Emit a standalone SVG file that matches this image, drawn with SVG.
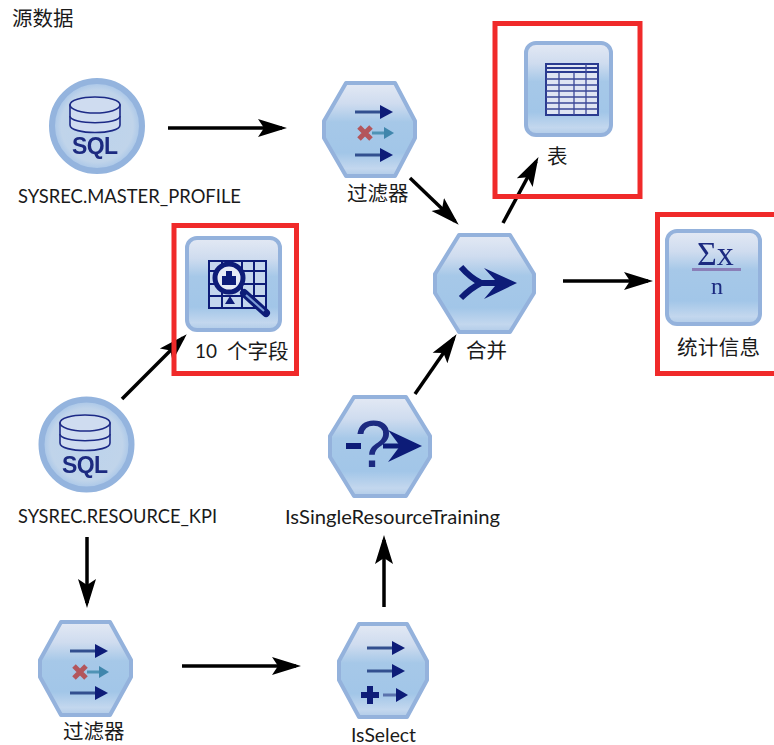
<svg xmlns="http://www.w3.org/2000/svg" width="774" height="745" viewBox="0 0 774 745">
<style>
.t{font-family:"Lato","Noto Sans CJK SC",sans-serif;font-size:19px;fill:#1a1a1a}
.c{font-family:"Noto Sans CJK SC","Noto Sans",sans-serif;font-size:20.500px;fill:#1a1a1a}
.hex{fill:url(#g);stroke:#94b2dc;stroke-width:4;stroke-linejoin:round}
.box{fill:url(#g);stroke:#94b2dc;stroke-width:4}
.circ{fill:url(#r);stroke:#94b4de;stroke-width:6}
.red{fill:none;stroke:#f02a2a;stroke-width:5}
.con{stroke:#000;stroke-width:3.500;fill:none;marker-end:url(#a)}
.n{fill:#0c1a78}
.ns{stroke:#0c1a78;fill:none}
.db{fill:#cfdcf0;stroke:#1c2a86;stroke-width:1.600}
.ic{font-family:"Liberation Sans",sans-serif;fill:#1c2a80}
.is{font-family:"Liberation Serif",serif;fill:#1c2a80}
.grid{stroke:#3a4798;stroke-width:1.300;fill:none}
</style>
<defs>
<linearGradient id="g" x1="0" y1="0" x2="0" y2="1">
<stop offset="0" stop-color="#e3e9f4"/><stop offset=".22" stop-color="#cfdcef"/><stop offset=".42" stop-color="#a6c8e8"/><stop offset=".75" stop-color="#a2c6e8"/><stop offset=".92" stop-color="#c3d7ee"/><stop offset="1" stop-color="#b0cbe8"/>
</linearGradient>
<radialGradient id="r" cx=".5" cy=".5" r=".5">
<stop offset="0" stop-color="#bcd3ec"/><stop offset=".8" stop-color="#c0d4ea"/><stop offset="1" stop-color="#a5c4e8"/>
</radialGradient>
<filter id="b" x="-5%" y="-5%" width="110%" height="110%"><feGaussianBlur stdDeviation="0.600"/></filter>
<marker id="a" markerUnits="userSpaceOnUse" markerWidth="32" markerHeight="22" refX="24" refY="10" orient="auto">
<path d="M0 1L29 10L0 19L6 10Z" fill="#000"/>
</marker>
<g id="db">
<path class="db" d="M-25 8V28C-25 38 25 38 25 28V8Z"/>
<path class="db" d="M-25 19C-25 28 25 28 25 19"/>
<ellipse class="db" cx="0" cy="8" rx="25" ry="8" fill="#dfe8f5"/>
</g>
<g id="fa">
<path d="M0 0H28" stroke-width="3" stroke="#33508f" fill="none"/>
<path d="M25 -7L38 0L25 7Z" fill="#0c1a78"/>
</g>
</defs>

<g id="label-source"><text class="c" x="12" y="26">源数据</text></g>

<g id="connectors">
<line class="con" x1="168" y1="128" x2="282" y2="128"/>
<line class="con" x1="410" y1="178" x2="455.100" y2="221.200"/>
<line class="con" x1="503" y1="223" x2="536.100" y2="161.500"/>
<line class="con" x1="122" y1="399" x2="183.200" y2="337.800"/>
<line class="con" x1="415" y1="394" x2="453.700" y2="338.300"/>
<line class="con" x1="384" y1="607" x2="384" y2="540"/>
<line class="con" x1="87" y1="537" x2="87" y2="603"/>
<line class="con" x1="182" y1="666" x2="296" y2="666"/>
<line class="con" x1="563" y1="281" x2="648" y2="281"/>
</g>

<g id="node-master-profile">
<g filter="url(#b)">
<circle class="circ" cx="97" cy="126" r="45"/>
<use href="#db" x="95" y="97"/>
<text class="ic" x="95" y="154" text-anchor="middle" font-size="23" font-weight="bold" textLength="46">SQL</text>
</g>
<text class="t" x="18" y="203" textLength="223" lengthAdjust="spacingAndGlyphs">SYSREC.MASTER_PROFILE</text>
</g>

<g id="node-filter-1">
<g filter="url(#b)">
<path class="hex" d="M346 83H395L415 121V138L395 176H346L324 138V121Z"/>
<use href="#fa" x="355" y="112"/><use href="#fa" x="355" y="155"/>
<path d="M372 133H386" stroke="#4f93b5" stroke-width="3"/><path d="M384 127L394 133L384 139Z" fill="#3f86ac"/>
<path d="M359 127L371 139M371 127L359 139" stroke="#b3575c" stroke-width="5"/>
</g>
<text class="c" x="347" y="201">过滤器</text>
</g>

<g id="node-table">
<rect class="red" x="495" y="23.500" width="145" height="173"/>
<g filter="url(#b)">
<rect class="box" x="526" y="43" width="85" height="92" rx="10"/>
<rect x="546" y="64" width="52" height="51" fill="#dfe5f3" stroke="#2c3a90" stroke-width="2"/>
<path d="M546 68H598M546 72H598" stroke="#2c3a90" stroke-width="2"/>
<path class="grid" d="M559 72V115M574 72V115M586 64V115M546 79H598M546 85H598M546 91H598M546 97H598M546 103H598M546 109H598"/>
</g>
<text class="c" x="547" y="164">表</text>
</g>

<g id="node-fields">
<rect class="red" x="174" y="225.500" width="122.500" height="148"/>
<g filter="url(#b)">
<rect class="box" x="187" y="238" width="93" height="92" rx="10"/>
<rect x="209" y="261" width="57" height="47" fill="#c4d6ee" stroke="#0c1a78" stroke-width="2"/>
<path class="grid" d="M222 261V308M242 261V308M254 261V308M209 271H266M209 284H266M209 296H266" style="stroke:#0c1a78;stroke-width:2"/>
<path d="M244 293L266 313" stroke="#0c1a78" stroke-width="8" stroke-linecap="round"/>
<path d="M246 295L264 311" stroke="#7f9fd8" stroke-width="2"/>
<circle cx="229" cy="278" r="14" fill="#e6ebf6" stroke="#0c1a78" stroke-width="5"/>
<path class="n" d="M222 285V276H226V271H232V276H236V285Z"/>
<path class="n" d="M230 296L235 304H225Z"/>
</g>
<text class="t" x="195" y="358">10</text>
<text class="c" x="227" y="359">个字段</text>
</g>

<g id="node-merge">
<g filter="url(#b)">
<path class="hex" d="M459 235H510L534 274V293L510 332H459L435 293V274Z"/>
<path class="ns" d="M461 267C467 274 473 279 481 283C473 287 467 292 461 298" stroke-width="6"/>
<path class="n" d="M484 268L517 283L484 299L495 286H478V280H495Z"/>
</g>
<text class="c" x="466" y="358">合并</text>
</g>

<g id="node-stats">
<path class="red" d="M774 214.500H657.500V373.500H774"/>
<g filter="url(#b)">
<rect class="box" x="667" y="231" width="93" height="93" rx="10"/>
<path d="M692 269.500H741" stroke="#8a7fb8" stroke-width="3"/>
<text class="is" x="697" y="265" font-size="34">Σx</text>
<text class="is" x="711" y="294" font-size="24">n</text>
</g>
<text class="c" x="677" y="355" textLength="83">统计信息</text>
</g>

<g id="node-resource-kpi">
<g filter="url(#b)">
<circle class="circ" cx="86.500" cy="444.500" r="45"/>
<use href="#db" x="85" y="415"/>
<text class="ic" x="85" y="473" text-anchor="middle" font-size="23" font-weight="bold" textLength="46">SQL</text>
</g>
<text class="t" x="18" y="523" textLength="199" lengthAdjust="spacingAndGlyphs">SYSREC.RESOURCE_KPI</text>
</g>

<g id="node-training">
<g filter="url(#b)">
<path class="hex" d="M354 397H406L430 436V457L406 496H354L330 457V436Z"/>
<path d="M346 446H361" stroke="#0c1a78" stroke-width="6"/>
<text class="ic" x="373" y="467" text-anchor="middle" font-size="66">?</text>
<path d="M383 446H405" stroke="#0c1a78" stroke-width="5"/>
<path class="n" d="M388 430L422 446L388 462L400 446Z"/>
</g>
<text class="t" x="285" y="524" textLength="215" lengthAdjust="spacingAndGlyphs">IsSingleResourceTraining</text>
</g>

<g id="node-filter-2">
<g filter="url(#b)">
<path class="hex" d="M61 622H110L131 660V677L110 715H61L40 677V660Z"/>
<use href="#fa" x="70" y="651"/><use href="#fa" x="70" y="693"/>
<path d="M87 672H101" stroke="#4f93b5" stroke-width="3"/><path d="M99 666L109 672L99 678Z" fill="#3f86ac"/>
<path d="M74 666L86 678M86 666L74 678" stroke="#b3575c" stroke-width="5"/>
</g>
<text class="c" x="63" y="739">过滤器</text>
</g>

<g id="node-isselect">
<g filter="url(#b)">
<path class="hex" d="M359 624H407L427 661V680L407 717H359L339 680V661Z"/>
<use href="#fa" x="367" y="648"/><use href="#fa" x="367" y="671"/>
<path d="M361 695H379M370 686V704" stroke="#0c1a78" stroke-width="6"/>
<path d="M383 695H399" stroke="#5a72ad" stroke-width="3"/><path d="M396 688L408 695L396 702Z" fill="#0c1a78"/>
</g>
<text class="t" x="351" y="742" textLength="65" lengthAdjust="spacingAndGlyphs">IsSelect</text>
</g>
</svg>
